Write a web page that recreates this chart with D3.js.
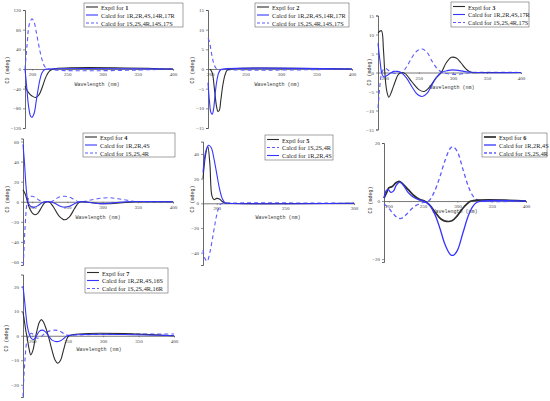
<!DOCTYPE html>
<html>
<head>
<meta charset="utf-8">
<script src="https://cdn.jsdelivr.net/npm/d3@7"></script>
<style>
  body { margin: 0; background: #fff; }
  svg { display: block; }
</style>
</head>
<body>
<svg id="chart"></svg>
<script>
// data: [wavelength (nm), CD (mdeg)]
let p1Exptl = [[190,-35],[195,-48],[200,-55],[205,-58],[210,-52],[215,-35],[220,-15],[225,-4],[230,0],[400,0]];
let p1CalcA = [[190,0],[192,-30],[195,-75],[198,-96],[200,-98],[203,-90],[206,-65],[210,-30],[214,-8],[218,-1],[222,0],[400,0]];
let p1CalcB = [[190,0],[193,50],[196,90],[200,102],[203,95],[206,75],[210,45],[214,20],[218,5],[222,0],[400,0]];

let p2Exptl = [[200,0],[203,-1],[206,-5],[209,-9.5],[211,-10.8],[213,-10.5],[215,-8],[218,-4],[221,-1.5],[224,-0.3],[228,0],[400,0]];
let p2CalcA = [[197,-3.5],[199,-8],[201,-11],[203,-11.5],[205,-10],[207,-6.5],[209,-3.5],[212,-1],[215,-0.2],[218,0],[400,0]];
let p2CalcB = [[197,7.8],[199,7],[201,5],[203,3],[205,1.5],[208,0.3],[211,0],[400,0]];

let p3Exptl = [[190,10.4],[195,11],[198,6],[200,0],[203,-5],[206,-6.5],[210,-5],[215,-2.5],[220,-0.5],[225,0],[230,-0.3],[240,-2.5],[250,-4.5],[258,-5],[265,-4],[275,-1.5],[283,0],[290,2.5],[298,4],[305,3.8],[312,2.5],[320,0.8],[328,0],[340,0],[400,0]];
let p3CalcA = [[190,7.7],[193,3],[196,-0.5],[199,-1.2],[203,-0.8],[208,-0.2],[213,0.3],[218,0.3],[224,0],[232,-1.5],[240,-3.8],[248,-5.8],[255,-6.3],[262,-5.5],[270,-3],[277,-1],[283,0],[292,0.5],[300,0.7],[310,0.5],[320,0.2],[335,0],[400,0]];
let p3CalcB = [[190,-9.3],[192,-5],[195,-0.5],[198,0.8],[201,1.1],[205,0.6],[210,0],[217,-0.3],[225,0],[232,1.5],[240,4],[248,5.8],[255,6.2],[262,5.3],[270,2.8],[278,0.8],[285,0],[295,-0.4],[305,-0.5],[315,-0.3],[330,0],[400,0]];

let p4Exptl = [[187,12],[190,8],[193,1],[196,-6],[200,-11],[204,-13],[208,-11.5],[213,-6],[217,-1.5],[220,0],[224,0],[230,-5],[238,-14],[246,-18],[253,-15],[260,-7],[266,-1],[270,0],[280,-0.5],[290,-1.5],[305,-2],[320,-1.5],[335,-0.5],[345,0],[400,0]];
let p4CalcA = [[187,57],[189,40],[191,18],[193,4],[195,-2],[199,-5],[203,-5.5],[208,-4],[213,-1.5],[218,0],[225,0],[232,-1.5],[240,-4.5],[246,-5.5],[253,-4.5],[260,-2],[268,0],[280,-0.5],[290,-1.5],[300,-2],[310,-1.5],[320,-0.8],[335,0],[400,0]];
let p4CalcB = [[187.5,-63],[188.5,-45],[190,-25],[192,-5],[194,2],[197,5],[200,5.5],[205,4],[210,1.5],[214,0],[220,-0.5],[227,0],[234,3],[240,5],[246,5.5],[253,4.5],[260,2],[266,0],[275,0.5],[285,2],[298,3.5],[310,4],[322,3],[335,1.5],[350,0],[400,0]];

let p5Exptl = [[190,20],[192,40],[193.5,46],[195,32],[196.5,6],[198,3],[200,4],[202,3.5],[204,1.5],[206,0.3],[208,0],[300,0]];
let p5CalcB = [[190,-38],[191.5,-45],[193,-47],[195,-40],[197,-28],[199,-15],[201,-5],[203,-0.5],[206,0],[300,0]];
let p5CalcA = [[190,25],[192,42],[194,47],[196,45],[198,36],[200,24],[202,12],[204,4],[206,0.5],[209,0],[300,0]];

let p6Exptl = [[193,1],[197,3],[200,4.5],[205,5],[210,6.2],[215,6.8],[220,6],[228,4],[236,2],[244,0.7],[252,0],[260,-1.5],[268,-4],[276,-6.2],[284,-7],[292,-6.8],[300,-5],[308,-2.5],[314,-1],[320,0],[400,0]];
let p6CalcA = [[193,1],[196,3.5],[199,4],[203,3],[207,3.5],[211,5.5],[216,6.5],[221,5.5],[228,3],[236,1.3],[244,0.4],[250,0],[258,-1],[266,-4],[274,-9],[282,-15],[290,-18.5],[294,-18.7],[300,-17],[308,-11],[316,-5],[322,-2],[328,-0.5],[335,0],[400,0]];
let p6CalcB = [[193,-1],[200,-2.5],[207,-4.5],[213,-5.8],[218,-6],[224,-5],[232,-3],[240,-1.5],[250,-0.5],[258,0],[266,3],[274,8],[282,14],[290,18.3],[294,18.7],[300,17],[308,11],[316,5],[322,2],[328,0.5],[335,0],[400,0]];

let p7Exptl = [[187,9.7],[189,6],[191,2],[193,-1],[195,-4.5],[198,-7.8],[201,-6],[204,-1.5],[207,2.5],[210,5.5],[213,6.6],[216,5.5],[220,2.5],[224,-1.5],[228,-6],[232,-9.8],[236,-11.2],[240,-10],[244,-6],[248,-2],[252,0],[400,0]];
let p7CalcA = [[187,20.3],[189,15],[191,9],[193,4],[196,0.5],[199,-1.2],[202,-1.5],[206,0],[210,1.8],[214,2.3],[218,1.8],[223,0],[228,-1.8],[234,-2.4],[240,-2],[245,-1],[250,0],[400,0]];
let p7CalcB = [[187,-24.8],[188,-18],[190,-9],[192,-3],[195,0],[199,1],[203,0],[207,-1],[212,-0.5],[218,1],[225,2],[232,2.3],[238,2],[244,1],[250,0.2],[260,0.3],[300,0.6],[350,0.7],[400,0.7]];

// tick values
let ticks1 = [-120,-80,-40,0,40,80,120];
let ticks2 = [-15,-10,-5,0,5,10,15];
let ticks4 = [-60,-40,-20,0,20,40,60];
let ticks5 = [-40,-20,0,20,40];
let ticks6 = [-20,0,20];
let ticks7 = [-20,-10,0,10,20];
let wlTicks = [200,250,300,350,400];
let wlTicks5 = [200,250,300];

// legend texts
let names1 = ['1', 'Calcd for 1R,2R,4S,14R,17R', 'Calcd for 1S,2S,4R,14S,17S'];
let names2 = ['2', 'Calcd for 1R,2R,4S,14R,17R', 'Calcd for 1S,2S,4R,14S,17S'];
let names3 = ['3', 'Calcd for 1R,2R,4S,17R', 'Calcd for 1S,2S,4R,17S'];
let names4 = ['4', 'Calcd for 1R,2R,4S', 'Calcd for 1S,2S,4R'];
let names5 = ['5', 'Calcd for 1S,2S,4R', 'Calcd for 1R,2R,4S'];
let names6 = ['6', 'Calcd for 1R,2R,4S', 'Calcd for 1S,2S,4R'];
let names7 = ['7', 'Calcd for 1R,2R,4S,16S', 'Calcd for 1S,2S,4R,16R'];

let black = '#2d2d2d';
let blue = '#3535ff';
let dash = '#5c5cff';
let serif = 'Liberation Serif, Times New Roman, serif';
let mono = 'Liberation Mono, Courier New, monospace';

let panels = [
  {xd:[190,400], xr:[25,173], yd:[-120,120], yr:[128,10], yt:ticks1, xt:wlTicks, lg:[84,3,99,24], names:names1,
   lines:[[p1Exptl,'k'],[p1CalcA,'b'],[p1CalcB,'d']], cd:[8,70], wl:[97,85]},
  {xd:[197,400], xr:[208,352], yd:[-15,15], yr:[128,10], yt:ticks2, xt:wlTicks, lg:[255,3,94,24], names:names2,
   lines:[[p2Exptl,'k'],[p2CalcA,'b'],[p2CalcB,'d']], cd:[193,70], wl:[277,85]},
  {xd:[190,400], xr:[378,521], yd:[-15,15], yr:[129.5,15.5], yt:ticks2, xt:wlTicks, lg:[451,2,78,25], names:names3,
   lines:[[p3Exptl,'k'],[p3CalcA,'b'],[p3CalcB,'d']], cd:[370,72], wl:[452,88]},
  {xd:[187,400], xr:[23,173], yd:[-63,63], yr:[265,138.5], yt:ticks4, xt:wlTicks, lg:[83,133,92,24], names:names4,
   lines:[[p4Exptl,'k'],[p4CalcA,'b'],[p4CalcB,'d']], cd:[8,199], wl:[98,218]},
  {xd:[190,300], xr:[203,354], yd:[-50,50], yr:[265,141.6], yt:ticks5, xt:wlTicks5, lg:[265,135,68,25], names:names5,
   lines:[[p5Exptl,'k'],[p5CalcB,'d'],[p5CalcA,'b']], cd:[193,199], wl:[278,218]},
  {xd:[193,400], xr:[384,526], yd:[-21,20], yr:[262,143], yt:ticks6, xt:wlTicks, lg:[482,133,65,24], names:names6,
   lines:[[p6Exptl,'k'],[p6CalcA,'b'],[p6CalcB,'d']], cd:[371,200], wl:[455,212], thick:true},
  {xd:[187,400], xr:[23,174], yd:[-25,25], yr:[397,274.5], yt:ticks7, xt:wlTicks, lg:[85,268,83,25], names:names7,
   lines:[[p7Exptl,'k'],[p7CalcA,'b'],[p7CalcB,'d']], cd:[7,338], wl:[99,350]}
];

let svg = d3.select('#chart').attr('width', 550).attr('height', 401);
svg.append('rect').attr('width', 550).attr('height', 401).attr('fill', '#fff');

let styleOf = (kind, thick) => {
  if (kind === 'k') return {c: black, w: thick ? 1.7 : 1.1, da: null};
  if (kind === 'b') return {c: blue, w: thick ? 1.3 : 1.1, da: null};
  return {c: dash, w: thick ? 1.3 : 1.1, da: '4,3'};
}

panels.forEach((p, i) => {
  let g = svg.append('g');
  let xSc = d3.scaleLinear().domain(p.xd).range(p.xr);
  let ySc = d3.scaleLinear().domain(p.yd).range(p.yr);

  // y axis
  let yAxis = d3.axisLeft(ySc).tickValues(p.yt).tickSize(2).tickPadding(2);
  let ya = g.append('g').attr('transform', 'translate(' + p.xr[0] + ',0)').call(yAxis);
  ya.select('.domain').attr('stroke', '#444').attr('stroke-width', 0.8);
  ya.selectAll('.tick line').attr('stroke', '#444').attr('stroke-width', 0.6);
  ya.selectAll('text').attr('font-family', serif).attr('font-size', 5).attr('fill', '#444');

  // x axis along zero line
  let xAxis = d3.axisBottom(xSc).tickValues(p.xt).tickSize(1.5).tickPadding(2);
  let xa = g.append('g').attr('transform', 'translate(0,' + ySc(0) + ')').call(xAxis);
  xa.select('.domain').attr('stroke', '#555').attr('stroke-width', 0.8);
  xa.selectAll('.tick line').attr('stroke', '#555').attr('stroke-width', 0.6);
  xa.selectAll('text').attr('font-family', serif).attr('font-size', 5).attr('fill', '#444');

  g.append('text')
   .attr('x', p.wl[0]).attr('y', p.wl[1])
   .attr('text-anchor', 'middle').attr('dominant-baseline', 'central')
   .attr('font-family', mono).attr('font-size', 5).attr('fill', '#333')
   .text('Wavelength (nm)');

  g.append('text')
   .attr('transform', 'translate(' + p.cd[0] + ',' + p.cd[1] + ') rotate(-90)')
   .attr('text-anchor', 'middle').attr('dominant-baseline', 'central')
   .attr('font-family', mono).attr('font-size', 5).attr('fill', '#333')
   .text('CD (mdeg)');

  let line = d3.line()
               .x(d => xSc(d[0]))
               .y(d => ySc(d[1]))
               .curve(d3.curveCatmullRom.alpha(0.5));

  // draw dashed first so solid lines sit above
  let order = [...p.lines].sort((a, b) => (a[1] === 'd' ? 0 : 1) - (b[1] === 'd' ? 0 : 1));
  order.forEach(l => {
    let s = styleOf(l[1], p.thick);
    g.append('path')
     .datum(l[0])
     .attr('d', line)
     .attr('fill', 'none')
     .attr('stroke', s.c)
     .attr('stroke-width', s.w)
     .attr('stroke-dasharray', s.da);
  });

  // legend
  let [lx, ly, lw, lh] = p.lg;
  g.append('rect').attr('x', lx).attr('y', ly).attr('width', lw).attr('height', lh)
   .attr('fill', '#fff').attr('stroke', '#666').attr('stroke-width', 0.6);
  p.lines.forEach((l, k) => {
    let s = styleOf(l[1], p.thick);
    let ry = ly + 4 + k * 8 + (lh - 24) / 2;
    g.append('line').attr('x1', lx + 2).attr('x2', lx + 14).attr('y1', ry).attr('y2', ry)
     .attr('stroke', s.c).attr('stroke-width', s.w).attr('stroke-dasharray', s.da ? '3,2' : null);
    let t = g.append('text').attr('x', lx + 17).attr('y', ry).attr('dominant-baseline', 'central')
             .attr('font-family', serif).attr('font-size', 6.3).attr('fill', '#222');
    if (k === 0) {
      t.append('tspan').text('Exptl for ');
      t.append('tspan').attr('font-weight', 'bold').text(p.names[0]);
    } else {
      t.text(p.names[k]);
    }
  });
});
</script>
</body>
</html>
